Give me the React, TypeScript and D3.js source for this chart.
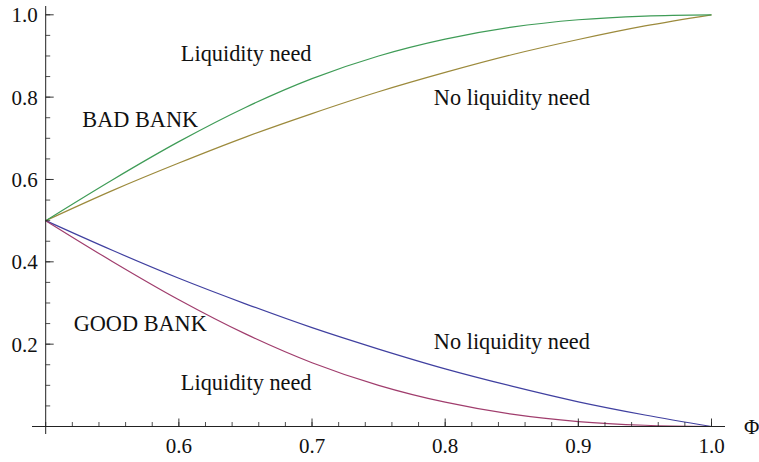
import * as d3 from "d3";

// Size of the picture
const WIDTH = 759;
const HEIGHT = 462;
// Where the data range sits in pixels (Mathematica-like frame)
const X_RANGE = [45.7, 711.5];
const Y_RANGE = [426.5, 14.8];
const MAJOR_TICK = 8;
const MINOR_TICK = 4.5;
const FONT = "'Liberation Serif', 'Times New Roman', serif";

const phi = [0.5, 0.55, 0.6, 0.65, 0.7, 0.75, 0.8, 0.85, 0.9, 0.95, 1.0];
const badLiquidity = [0.5, 0.599, 0.692, 0.775, 0.845, 0.9, 0.941, 0.97, 0.988, 0.997, 1.0];
const badNoLiquidity = [0.5, 0.573, 0.64, 0.703, 0.76, 0.813, 0.86, 0.903, 0.94, 0.973, 1.0];
const goodNoLiquidity = [0.5, 0.428, 0.36, 0.298, 0.24, 0.188, 0.14, 0.098, 0.06, 0.028, 0.0];
const goodLiquidity = [0.5, 0.401, 0.308, 0.225, 0.155, 0.1, 0.059, 0.03, 0.012, 0.003, 0.0];

const xTicks = [0.6, 0.7, 0.8, 0.9, 1.0];
const yTicks = [0.2, 0.4, 0.6, 0.8, 1.0];

const series = [
  { name: "goodNoLiquidity", values: goodNoLiquidity, color: "#4040a0" },
  { name: "goodLiquidity", values: goodLiquidity, color: "#a03d6d" },
  { name: "badNoLiquidity", values: badNoLiquidity, color: "#9c8a3c" },
  { name: "badLiquidity", values: badLiquidity, color: "#3f9c57" },
];

const labels = [
  { text: "Liquidity need", x: 0.6015, y: 0.888 },
  { text: "BAD BANK", x: 0.5275, y: 0.727 },
  { text: "No liquidity need", x: 0.7915, y: 0.782 },
  { text: "GOOD BANK", x: 0.521, y: 0.231 },
  { text: "No liquidity need", x: 0.7915, y: 0.188 },
  { text: "Liquidity need", x: 0.6015, y: 0.088 },
];

const textStyle = { fontFamily: FONT };

export default function App() {
  const x = d3.scaleLinear().domain([0.5, 1.0]).range(X_RANGE);
  const y = d3.scaleLinear().domain([0, 1]).range(Y_RANGE);

  const line = d3
    .line<number>()
    .x((_, i) => x(phi[i]))
    .y((d) => y(d))
    .curve(d3.curveCatmullRom.alpha(0.5));

  const xMinor = d3.range(0, 26).map((i) => 0.5 + i * 0.02);
  const yMinor = d3.range(0, 21).map((i) => i * 0.05);

  const x0 = x(0.5);
  const y0 = y(0);

  return (
    <svg
      width={WIDTH}
      height={HEIGHT}
      style={{ position: "absolute", left: 0, top: 0, background: "#fff" }}
    >
      {/* curves */}
      {series.map((s) => (
        <path
          key={s.name}
          d={line(s.values) || undefined}
          fill="none"
          stroke={s.color}
          strokeWidth={1.2}
        />
      ))}

      {/* axes */}
      <line x1={32} x2={725} y1={y0} y2={y0} stroke="#222" strokeWidth={1} />
      <line x1={x0} x2={x0} y1={6} y2={434} stroke="#222" strokeWidth={1} />

      {/* x ticks, pointing up */}
      {xMinor.map((v) => (
        <line
          key={"xm" + v}
          x1={x(v)}
          x2={x(v)}
          y1={y0}
          y2={y0 - MINOR_TICK}
          stroke="#222"
          strokeWidth={0.8}
        />
      ))}
      {xTicks.map((v) => (
        <g key={"x" + v}>
          <line x1={x(v)} x2={x(v)} y1={y0} y2={y0 - MAJOR_TICK} stroke="#222" strokeWidth={0.9} />
          <text x={x(v)} y={y0 + 26.5} textAnchor="middle" fontSize={21} fill="#111" style={textStyle}>
            {v.toFixed(1)}
          </text>
        </g>
      ))}

      {/* y ticks, pointing right */}
      {yMinor.map((v) => (
        <line
          key={"ym" + v}
          x1={x0}
          x2={x0 + MINOR_TICK}
          y1={y(v)}
          y2={y(v)}
          stroke="#222"
          strokeWidth={0.8}
        />
      ))}
      {yTicks.map((v) => (
        <g key={"y" + v}>
          <line x1={x0} x2={x0 + MAJOR_TICK} y1={y(v)} y2={y(v)} stroke="#222" strokeWidth={0.9} />
          <text x={x0 - 8} y={y(v) + 7.5} textAnchor="end" fontSize={21} fill="#111" style={textStyle}>
            {v.toFixed(1)}
          </text>
        </g>
      ))}

      {/* axis label */}
      <text x={744} y={434} fontSize={21} fill="#111" style={textStyle}>
        Φ
      </text>

      {/* annotations */}
      {labels.map((l, i) => (
        <text key={i} x={x(l.x)} y={y(l.y)} fontSize={22.3} fill="#111" style={textStyle}>
          {l.text}
        </text>
      ))}
    </svg>
  );
}
